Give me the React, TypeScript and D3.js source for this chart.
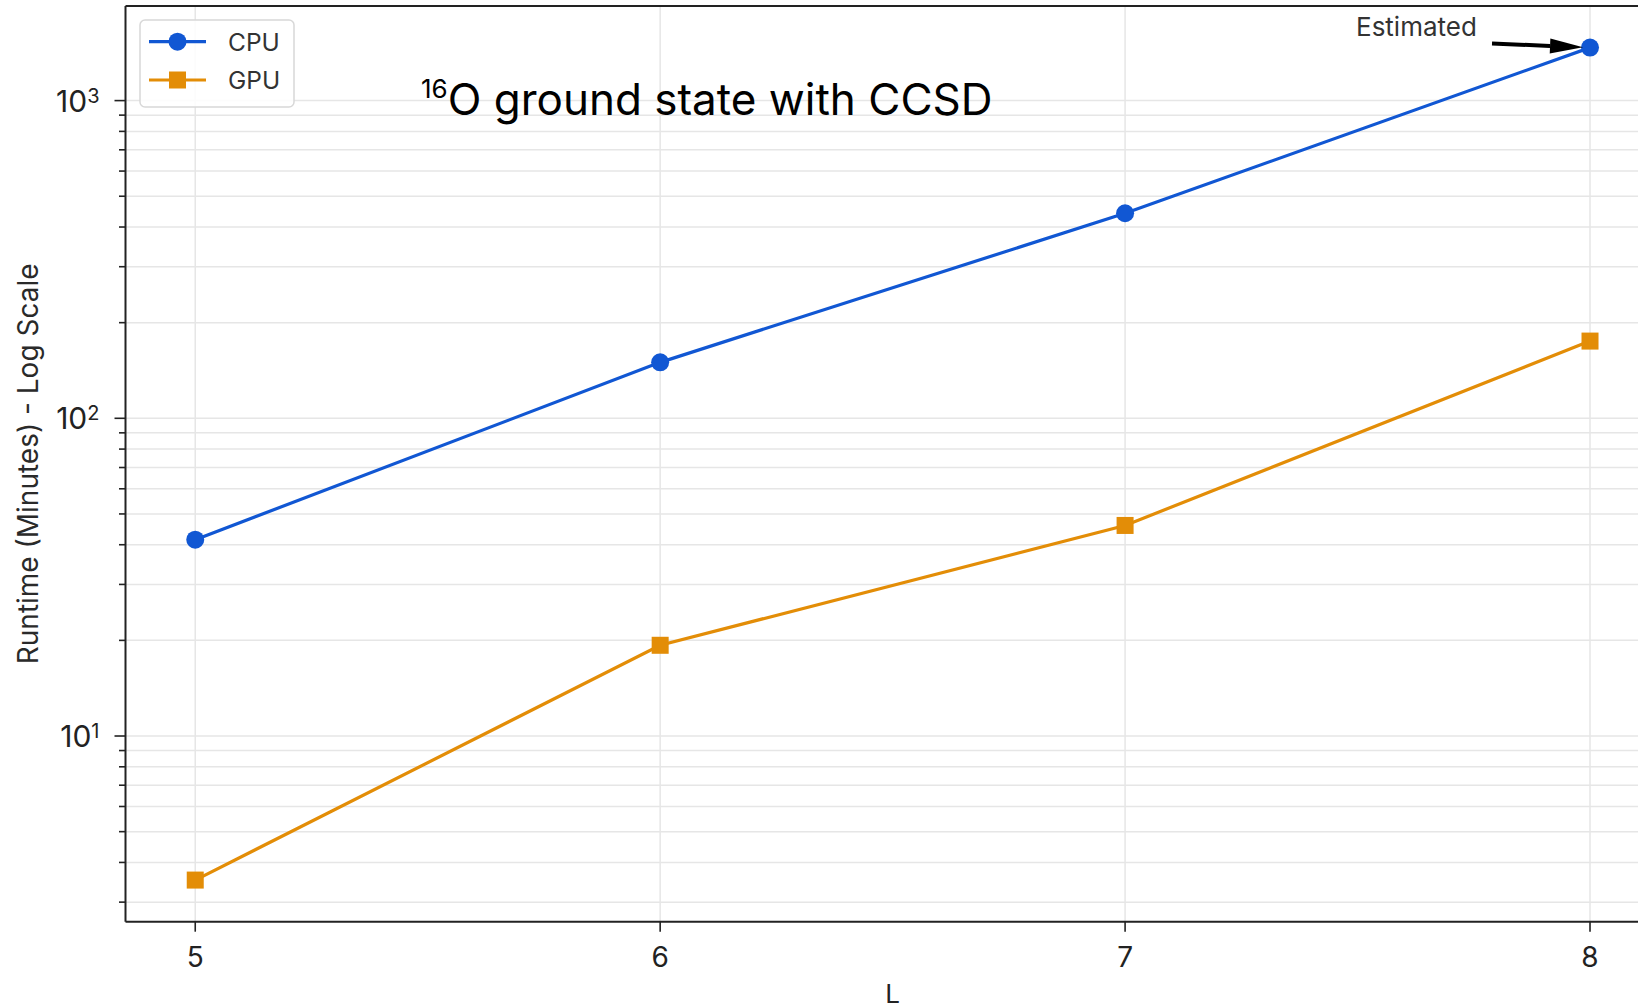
import React from "react";
import * as d3 from "d3";

// Runtime of the 16O CCSD ground-state calculation versus model-space size L
const L_VALUES = [5, 6, 7, 8];
const CPU_MINUTES = [41.5, 150, 442, 1468];
const GPU_MINUTES = [3.52, 19.3, 46, 175];
const SERIES_NAMES = ["CPU", "GPU"];
const X_TICKS = [5, 6, 7, 8];
const Y_DECADES = [1, 2, 3];
const ANNOTATION_TEXT = "Estimated";
const TITLE_SUP = "16";
const TITLE_MAIN = "O ground state with CCSD";
const X_LABEL = "L";
const Y_LABEL = "Runtime (Minutes) - Log Scale";

const W = 1638;
const H = 1004;
const M = { left: 125.5, right: 1659.75, top: 6, bottom: 921.7 };

const CPU_COLOR = "#1157d3";
const GPU_COLOR = "#e38d07";
const GRID = "#e6e6e6";
const INK = "#222";
const FONT = "Inter, 'Noto Sans', sans-serif";

export default function App() {
  // matplotlib-style 5% autoscale margins (log space on y)
  const [xMin, xMax] = d3.extent(L_VALUES) as [number, number];
  const xPad = (xMax - xMin) * 0.05;
  const x = d3.scaleLinear().domain([xMin - xPad, xMax + xPad]).range([M.left, M.right]);

  const allY = [...CPU_MINUTES, ...GPU_MINUTES].map(Math.log10);
  const lo = d3.min(allY)!;
  const hi = d3.max(allY)!;
  const yPad = (hi - lo) * 0.05;
  const y = d3
    .scaleLog()
    .domain([Math.pow(10, lo - yPad), Math.pow(10, hi + yPad)])
    .range([M.bottom, M.top]);

  const [yd0, yd1] = y.domain();
  const yTicks = y.ticks().filter((t) => t >= yd0 && t <= yd1);
  const isMajor = (t: number) => Math.abs(Math.log10(t) - Math.round(Math.log10(t))) < 1e-9;

  const line = d3
    .line<number>()
    .x((_, i) => x(L_VALUES[i]))
    .y((v) => y(v));

  const squareSide = 17;
  const dotR = 9;

  // annotation arrow pointing at the last CPU point
  const px = x(L_VALUES[3]);
  const py = y(CPU_MINUTES[3]);
  const tipX = px - 7;
  const tipY = py - 0.3;
  const startX = px - 98;
  const startY = py - 4.2;
  const ang = Math.atan2(tipY - startY, tipX - startX);
  const headLen = 33;
  const headHalf = 7.5;
  const bx = tipX - headLen * Math.cos(ang);
  const by = tipY - headLen * Math.sin(ang);
  const nx = -Math.sin(ang);
  const ny = Math.cos(ang);

  const legendItems = [
    { name: SERIES_NAMES[0], color: CPU_COLOR, shape: "circle" },
    { name: SERIES_NAMES[1], color: GPU_COLOR, shape: "square" },
  ];

  return (
    <div style={{ position: "fixed", left: 0, top: 0 }}>
      <svg width={W} height={H} style={{ display: "block", background: "#fff" }} fontFamily={FONT}>
        <defs>
          <clipPath id="plot-clip">
            <rect x={M.left} y={M.top} width={M.right - M.left} height={M.bottom - M.top} />
          </clipPath>
        </defs>

        {/* grid */}
        <g stroke={GRID} strokeWidth={1.5}>
          {yTicks.map((t) => (
            <line key={"gy" + t} x1={M.left} x2={M.right} y1={y(t)} y2={y(t)} />
          ))}
          {X_TICKS.map((t) => (
            <line key={"gx" + t} x1={x(t)} x2={x(t)} y1={M.top} y2={M.bottom} />
          ))}
        </g>

        {/* series */}
        <g clipPath="url(#plot-clip)">
          <path d={line(CPU_MINUTES)!} fill="none" stroke={CPU_COLOR} strokeWidth={3.2} />
          <path d={line(GPU_MINUTES)!} fill="none" stroke={GPU_COLOR} strokeWidth={3.2} />
          {CPU_MINUTES.map((v, i) => (
            <circle key={"c" + i} cx={x(L_VALUES[i])} cy={y(v)} r={dotR} fill={CPU_COLOR} />
          ))}
          {GPU_MINUTES.map((v, i) => (
            <rect
              key={"g" + i}
              x={x(L_VALUES[i]) - squareSide / 2}
              y={y(v) - squareSide / 2}
              width={squareSide}
              height={squareSide}
              fill={GPU_COLOR}
            />
          ))}
        </g>

        {/* spines */}
        <g stroke={INK} strokeWidth={2} fill="none">
          <line x1={M.left} x2={M.left} y1={M.top} y2={M.bottom} />
          <line x1={M.left} x2={M.right} y1={M.bottom} y2={M.bottom} />
          <line x1={M.left} x2={M.right} y1={M.top} y2={M.top} />
        </g>

        {/* ticks */}
        <g stroke={INK} strokeWidth={1.6}>
          {yTicks.map((t) => (
            <line
              key={"ty" + t}
              x1={M.left - (isMajor(t) ? 11 : 6.5)}
              x2={M.left}
              y1={y(t)}
              y2={y(t)}
            />
          ))}
          {X_TICKS.map((t) => (
            <line key={"tx" + t} x1={x(t)} x2={x(t)} y1={M.bottom} y2={M.bottom + 10} />
          ))}
        </g>

        {/* y tick labels */}
        <g fill={INK} fontSize={30}>
          {Y_DECADES.map((d) => (
            <text key={"ly" + d} x={M.left - 26} y={y(Math.pow(10, d)) + 11} textAnchor="end">
              <tspan>10</tspan>
              <tspan fontSize={20} dy={-9}>
                {d}
              </tspan>
            </text>
          ))}
        </g>

        {/* x tick labels */}
        <g fill={INK} fontSize={28} textAnchor="middle">
          {X_TICKS.map((t) => (
            <text key={"lx" + t} x={x(t)} y={M.bottom + 45}>
              {t}
            </text>
          ))}
        </g>

        {/* axis labels */}
        <text
          x={(M.left + M.right) / 2}
          y={1003}
          textAnchor="middle"
          fontSize={26}
          fill={INK}
        >
          {X_LABEL}
        </text>
        <text
          transform={`translate(38, ${(M.top + M.bottom) / 2}) rotate(-90)`}
          textAnchor="middle"
          fontSize={28}
          fill="#2a2a2a"
        >
          {Y_LABEL}
        </text>

        {/* legend */}
        <g>
          <rect x={140} y={20} width={154} height={87} rx={5} fill="#fff" fillOpacity={0.85} stroke="#d8d8d8" strokeWidth={1.5} />
          {legendItems.map((it, i) => {
            const ly = 41.7 + i * 38.3;
            return (
              <g key={it.name}>
                <line x1={149} x2={206} y1={ly} y2={ly} stroke={it.color} strokeWidth={3.2} />
                {it.shape === "circle" ? (
                  <circle cx={177.5} cy={ly} r={dotR} fill={it.color} />
                ) : (
                  <rect x={177.5 - squareSide / 2} y={ly - squareSide / 2} width={squareSide} height={squareSide} fill={it.color} />
                )}
                <text x={228} y={ly + 9} fontSize={24.5} fill="#333">
                  {it.name}
                </text>
              </g>
            );
          })}
        </g>

        {/* title */}
        <text x={421} y={115} fontSize={44} fill="#000">
          <tspan fontSize={26} dy={-17}>
            {TITLE_SUP}
          </tspan>
          <tspan dy={17}>{TITLE_MAIN}</tspan>
        </text>

        {/* annotation */}
        <text x={px - 234} y={py - 12} fontSize={26} fill="#333">
          {ANNOTATION_TEXT}
        </text>
        <line x1={startX} y1={startY} x2={bx} y2={by} stroke="#000" strokeWidth={4} />
        <polygon
          points={`${tipX},${tipY} ${bx + nx * headHalf},${by + ny * headHalf} ${bx - nx * headHalf},${by - ny * headHalf}`}
          fill="#000"
        />
      </svg>
    </div>
  );
}
